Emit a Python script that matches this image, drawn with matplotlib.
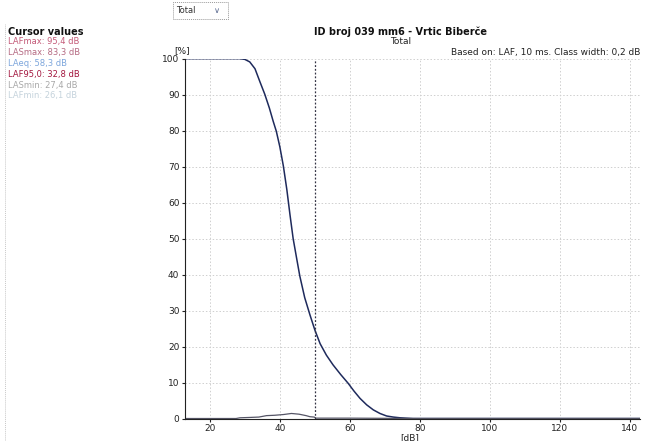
import matplotlib
matplotlib.use("Agg")
import matplotlib.pyplot as plt

# Cumulative distribution (percent exceeded)
cum_db = [12.9, 28.6, 30.0, 31.4, 32.9, 34.3, 35.7, 37.0, 38.1, 39.0, 40.0, 41.0,
          42.0, 42.9, 43.8, 44.8, 45.7, 47.1, 48.6, 50.0, 51.5, 53.3, 55.2, 57.4,
          59.5, 61.2, 62.9, 64.8, 66.7, 68.6, 70.5, 72.4, 74.3, 76.0, 78.0, 142.9]
cum_pct = [100, 100, 99.8, 99.1, 97.2, 93.6, 90.1, 86.3, 82.6, 79.8, 75.5, 70.2,
           63.6, 56.6, 50.0, 44.5, 39.6, 33.6, 28.8, 24.6, 20.8, 17.6, 14.9, 12.2,
           9.8, 7.6, 5.6, 3.8, 2.4, 1.4, 0.7, 0.4, 0.2, 0.1, 0, 0]

# Class distribution (percent per class)
dist_db = [12.9, 27.5, 28.6, 31.5, 34.0, 36.2, 38.5, 41.0, 43.3, 45.5, 47.5, 48.6,
           49.8, 50.3, 60.0, 70.0, 80.0, 142.9]
dist_pct = [0, 0, 0.2, 0.3, 0.4, 0.8, 0.9, 1.1, 1.4, 1.2, 0.8, 0.5,
            0.4, 0.1, 0.1, 0.05, 0, 0]

cursor_db = 50.0

cursor_labels = ["LAFmax: 95,4 dB", "LASmax: 83,3 dB", "LAeq: 58,3 dB",
                 "LAF95,0: 32,8 dB", "LASmin: 27,4 dB", "LAFmin: 26,1 dB"]
cursor_colors = ["#c45a78", "#b56a82", "#7da6dc", "#a3163e", "#a8a8a8", "#c5d3dc"]

x_ticks = [20, 40, 60, 80, 100, 120, 140]
y_ticks = [0, 10, 20, 30, 40, 50, 60, 70, 80, 90, 100]

plt.rcParams["font.family"] = ["DejaVu Sans"]

fig = plt.figure(figsize=(6.52, 4.41), dpi=100)
fig.patch.set_facecolor("white")
ax = fig.add_axes([0.2837, 0.051, 0.698, 0.816])

ax.plot(cum_db, cum_pct, color="#1e2a5c", lw=1.1)
ax.plot(dist_db, dist_pct, color="#555566", lw=0.9)
ax.axvline(cursor_db, color="#333344", lw=0.9, ls=(0, (1.5, 1.5)))

ax.set_xlim(12.9, 142.9)
ax.set_ylim(0, 100)
ax.set_xticks(x_ticks)
ax.set_yticks(y_ticks)
ax.grid(True, color="#cfcfcf", ls=(0, (1.5, 2)), lw=0.7)
for s in ["top", "right"]:
    ax.spines[s].set_visible(False)
ax.spines["left"].set_color("#222222")
ax.spines["bottom"].set_color("#222222")
ax.tick_params(labelsize=6.5, length=2.5, width=0.8, colors="#222222", pad=1.5)

# Header texts
fig.text(0.614, 0.928, "ID broj 039 mm6 - Vrtic Biberče", fontsize=7, fontweight="bold",
         ha="center", va="center", color="#111111")
fig.text(0.614, 0.905, "Total", fontsize=6.5, ha="center", va="center", color="#222222")
fig.text(0.268, 0.885, "[%]", fontsize=6.5, ha="left", va="center", color="#222222")
fig.text(0.982, 0.882, "Based on: LAF, 10 ms. Class width: 0,2 dB", fontsize=6.5,
         ha="right", va="center", color="#222222")
fig.text(0.628, 0.008, "[dB]", fontsize=6.5, ha="center", va="center", color="#222222")

# Dropdown box
fig.patches.append(matplotlib.patches.Rectangle((0.265, 0.958), 0.085, 0.038,
                                                transform=fig.transFigure, fill=False,
                                                ec="#9a9a9a", lw=0.7, ls=(0, (1, 1))))
fig.text(0.270, 0.977, "Total", fontsize=6, ha="left", va="center", color="#333333")
fig.text(0.333, 0.977, "\u2228", fontsize=6, ha="center", va="center", color="#5a6a90")

# Cursor values panel
fig.text(0.012, 0.928, "Cursor values", fontsize=7, fontweight="bold",
         ha="left", va="center", color="#111111")
for i, (lab, col) in enumerate(zip(cursor_labels, cursor_colors)):
    fig.text(0.012, 0.905 - i * 0.0245, lab, fontsize=6, ha="left", va="center", color=col)
fig.add_artist(matplotlib.lines.Line2D([0.008, 0.008], [0.0, 0.945], transform=fig.transFigure,
                                       color="#c8c8c8", lw=0.7, ls=(0, (1, 1))))

fig.savefig("out.png", dpi=100, facecolor="white")
